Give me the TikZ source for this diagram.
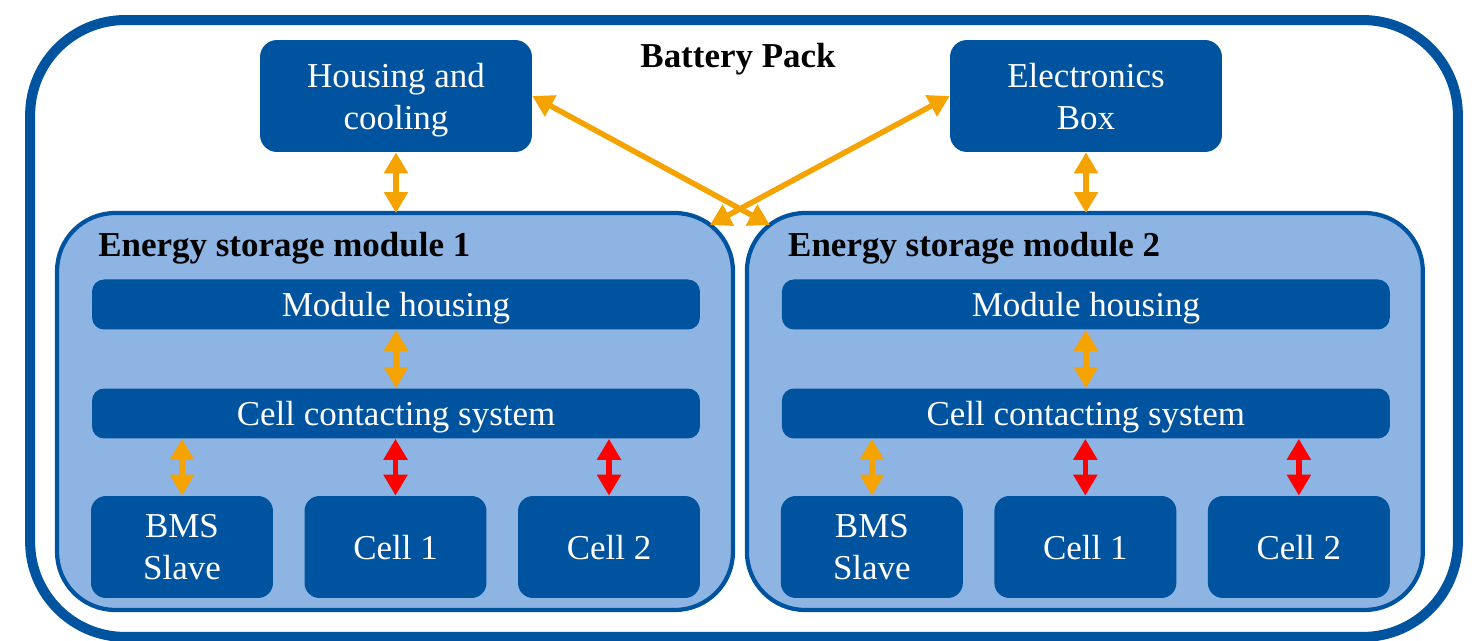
\documentclass[tikz,border=0pt]{standalone}
\usepackage{fontspec}
\setmainfont{Liberation Serif}
\usetikzlibrary{arrows.meta,calc}
\definecolor{navy}{HTML}{00539F}
\definecolor{sky}{HTML}{8DB4E2}
\definecolor{amber}{HTML}{F5A300}
\definecolor{alarm}{HTML}{FF0000}
\tikzset{blk/.style={rectangle,rounded corners=0.34cm,fill=navy,text=white,inner sep=0pt,align=center,
    text depth=0pt,font=\fontsize{19.9}{24}\selectfont},
  topbox/.style={blk,minimum width=5.44cm,minimum height=2.24cm},
  bar/.style={blk,rounded corners=0.24cm,minimum width=12.16cm,minimum height=1cm},
  cellbox/.style={blk,rounded corners=0.3cm,minimum width=3.64cm,minimum height=2.04cm},
  frame/.style={rectangle,draw=navy,fill=sky,line width=2.4pt,rounded corners=1.16cm,
    minimum width=13.52cm,minimum height=7.94cm,inner sep=0pt,outer sep=0pt},
  title/.style={font=\bfseries\fontsize{19.9}{24}\selectfont,inner sep=0pt},
  link/.style={line width=0.11cm,draw=amber,{Triangle[length=0.42cm,width=0.46cm]}-{Triangle[length=0.42cm,width=0.46cm]}},
  hot/.style={link,draw=alarm}}
\begin{document}
\begin{tikzpicture}[x=0.02cm,y=-0.02cm]
\useasboundingbox (0,0) rectangle (1472,641);
% battery pack frame
\node[draw=navy,line width=0.2cm,rounded corners=1.9cm,minimum width=28.56cm,minimum height=12.34cm,inner sep=0pt] (pack) at (744,328.5) {};
\node[title] (packlbl) at (738,59) {Battery Pack};
\node[topbox] (house) at (396,96) {Housing and\\cooling};
\node[topbox] (elec) at (1086,96) {Electronics\\Box};
% the two modules
\foreach \m/\cx in {1/0,2/13.8}{
\begin{scope}[xshift=\cx cm]
\node[frame] (mod\m) at (395,411.5) {};
\node[title,anchor=west] (lbl\m) at (98,248) {Energy storage module \m};
\node[bar] (mh\m) at (396,304.5) {Module housing};
\node[bar] (ccs\m) at (396,413.5) {Cell contacting system};
\node[cellbox] (bms\m) at (182,547) {BMS\\Slave};
\node[cellbox] (ca\m) at (395.5,547) {Cell 1};
\node[cellbox] (cb\m) at (609,547) {Cell 2};
\end{scope}
\draw[link] (mh\m.south) -- (ccs\m.north);
\draw[link] (bms\m.north) -- (bms\m.north |- ccs\m.south);
\draw[hot] (ca\m.north) -- (ca\m.north |- ccs\m.south);
\draw[hot] (cb\m.north) -- (cb\m.north |- ccs\m.south);
}
\draw[link] (house.south) -- (house.south |- mod1.north);
\draw[link] (elec.south) -- (elec.south |- mod2.north);
\draw[link] (house.east) -- ([shift={(23,12)}]mod2.north west);
\draw[link] (elec.west) -- ([shift={(-23,12)}]mod1.north east);
\end{tikzpicture}
\end{document}
